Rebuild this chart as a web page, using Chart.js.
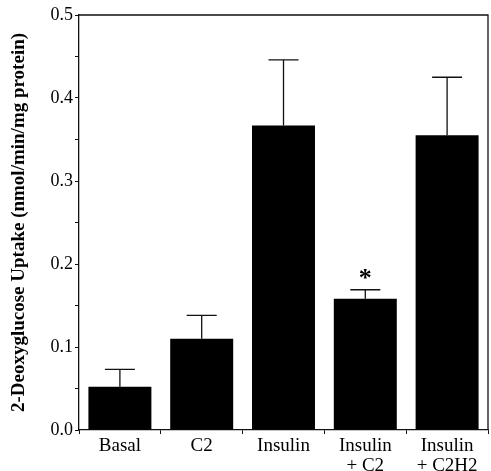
<!DOCTYPE html>
<html>
<head>
<meta charset="utf-8">
<script src="https://cdn.jsdelivr.net/npm/chart.js@4"></script>
<style>
html,body{margin:0;padding:0;background:#fff}
#wrap{width:491px;height:471px}
</style>
</head>
<body>
<div id="wrap"><canvas id="uptakeChart" width="491" height="471"></canvas></div>
<script>
const groups=[["Basal"],["C2"],["Insulin"],["Insulin","+ C2"],["Insulin","+ C2H2"]]
const uptake=[0.052,0.110,0.367,0.158,0.355]
const errUp=[0.021,0.028,0.079,0.011,0.070]
const starred=[false,false,false,true,false]

const serif="'Liberation Serif','Times New Roman',serif"

// error bars (upper only), star marks and the box frame
const extras={
id:"extras",
afterDatasetsDraw(chart){
const c=chart.ctx
const y=chart.scales.y
const meta=chart.getDatasetMeta(0)
const a=chart.chartArea
c.save()
c.strokeStyle="#111"
c.lineWidth=1.3
meta.data.forEach((bar,i)=>{
const top=y.getPixelForValue(uptake[i]+errUp[i])
c.beginPath()
c.moveTo(bar.x,bar.y)
c.lineTo(bar.x,top)
c.moveTo(bar.x-15,top)
c.lineTo(bar.x+15,top)
c.stroke()
if(starred[i]){
c.fillStyle="#000"
c.font="bold 26px "+serif
c.textAlign="center"
c.textBaseline="middle"
c.fillText("*",bar.x,top-10)
}
})
c.beginPath()
c.moveTo(a.left,a.top)
c.lineTo(a.right,a.top)
c.lineTo(a.right,a.bottom)
c.stroke()
c.restore()
}
}

const uptakeChart=new Chart(document.getElementById("uptakeChart"),{
type:"bar",
data:{
labels:groups,
datasets:[{
data:uptake,
backgroundColor:"#000",
borderWidth:0,
barPercentage:0.77,
categoryPercentage:1
}]
},
options:{
responsive:false,
animation:false,
layout:{padding:{top:15,right:3,left:0,bottom:0}},
plugins:{legend:{display:false},tooltip:{enabled:false}},
scales:{
x:{
afterFit(s){s.height=41},
grid:{display:true,drawOnChartArea:false,offset:true,tickLength:4,color:"#111"},
border:{display:true,color:"#111",width:1.3},
ticks:{color:"#000",font:{family:serif,size:19,lineHeight:1.05},padding:2,maxRotation:0}
},
y:{
min:0,max:0.5,
afterFit(s){s.width=79},
grid:{display:true,drawOnChartArea:false,tickLength:4,color:"#111"},
border:{display:true,color:"#111",width:1.3},
ticks:{
stepSize:0.05,
color:"#000",
font:{family:serif,size:18},
padding:2,
callback:v=>Math.round(v*100)%10===0?v.toFixed(1):""
},
title:{
display:true,
text:"2-Deoxyglucose Uptake (nmol/min/mg protein)",
color:"#000",
font:{family:serif,size:19,weight:"bold"},
padding:{top:8,bottom:4}
}
}
}
},
plugins:[extras]
})
</script>
</body>
</html>
